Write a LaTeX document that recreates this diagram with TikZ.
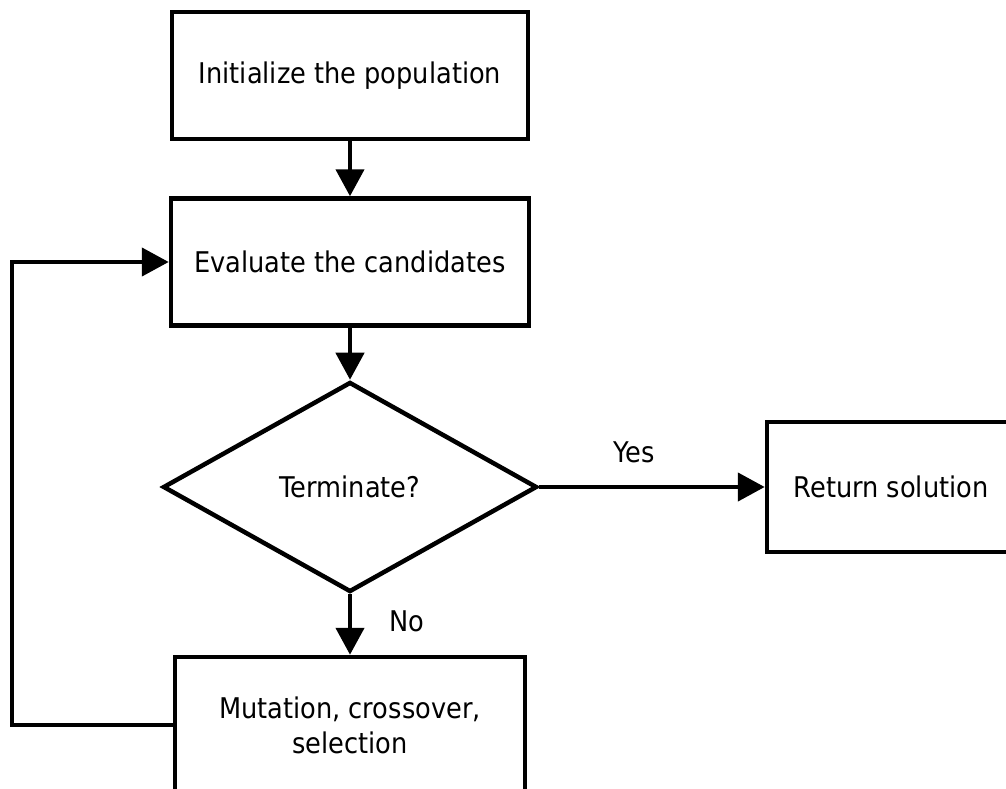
\documentclass[tikz,border=0pt]{standalone}
\usepackage{fontspec}
\setmainfont{DejaVu Sans}[FakeStretch=0.9]
\usetikzlibrary{shapes.geometric,arrows.meta}
\begin{document}
\begin{tikzpicture}[x=1pt,y=-1pt,
  every node/.style={font=\fontsize{28.5}{35}\selectfont},
  boxnode/.style={draw,line width=4.5pt,rectangle,inner sep=0pt,align=center},
  decision/.style={draw,line width=4.5pt,diamond,inner sep=0pt,minimum width=374pt,minimum height=210pt},
  conn/.style={line width=4.5pt,-{Triangle[length=27pt,width=28pt]}},
  lbl/.style={inner sep=0pt}]
\clip (0,0) rectangle (1006,789);
\fill[white] (0,0) rectangle (1006,789);
\node[boxnode,minimum width=356pt,minimum height=127pt] (init) at (350,75.5) {Initialize the population};
\node[boxnode,minimum width=358pt,minimum height=127pt] (eval) at (350,262) {Evaluate the candidates};
\node[decision] (term) at (350,487) {Terminate?};
\node[boxnode,minimum width=248pt,minimum height=130pt] (ret) at (891,487) {Return solution};
\node[boxnode,minimum width=350pt,minimum height=136pt] (mut) at (350,725) {Mutation, crossover,\\selection};
\coordinate (lp) at (12,725);
\draw[conn] (init) -- (eval);
\draw[conn] (eval) -- (term);
\draw[conn] (term.east) -- (ret.west) node[lbl,pos=0.42,above=22pt] (yes) {Yes};
\draw[conn] (term.south) -- (mut.north) node[lbl,midway,right=37pt,yshift=3pt] (no) {No};
\draw[conn] (mut.west) -- (lp) |- (eval.west);
\end{tikzpicture}
\end{document}
